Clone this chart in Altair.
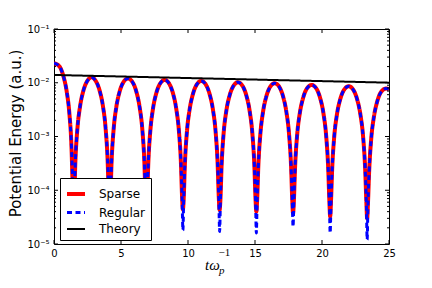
import altair as alt
import pandas as pd

# ---- data ----
# shared (non-dip) points of the oscillating potential energy
curve_t = [
    0.00, 0.40, 0.70, 0.95, 1.15, 1.30, 1.39,
    1.51, 1.60, 1.75, 1.95, 2.20, 2.50, 2.80, 3.10, 3.40, 3.65, 3.85, 4.00, 4.09,
    4.21, 4.30, 4.45, 4.65, 4.90, 5.20, 5.52, 5.84, 6.14, 6.39, 6.59, 6.74, 6.83,
    6.95, 7.04, 7.19, 7.39, 7.64, 7.94, 8.26, 8.57, 8.87, 9.12, 9.32, 9.47, 9.56,
    9.68, 9.77, 9.92, 10.12, 10.37, 10.67, 10.99, 11.31, 11.61, 11.86, 12.06, 12.21, 12.30,
    12.42, 12.51, 12.66, 12.86, 13.11, 13.41, 13.73, 14.05, 14.35, 14.60, 14.80, 14.95, 15.04,
    15.16, 15.25, 15.40, 15.60, 15.85, 16.15, 16.47, 16.79, 17.09, 17.34, 17.54, 17.69, 17.78,
    17.90, 17.99, 18.14, 18.34, 18.59, 18.89, 19.23, 19.56, 19.86, 20.11, 20.31, 20.46, 20.55,
    20.67, 20.76, 20.91, 21.11, 21.36, 21.66, 21.99, 22.32, 22.62, 22.87, 23.07, 23.22, 23.31,
    23.43, 23.52, 23.67, 23.87, 24.12, 24.42, 24.78, 25.00,
]
curve_E = [
    0.0231, 0.0202, 0.01331, 0.00682, 0.002636, 0.000679, 0.00013,
    7.9e-5, 3.69e-4, 1.431e-3, 3.702e-3, 7.226e-3, 1.0968e-2, 1.26e-2, 1.0968e-2, 7.226e-3, 3.702e-3, 1.431e-3, 3.69e-4, 7.9e-5,
    7.7e-5, 3.51e-4, 1.363e-3, 3.526e-3, 6.882e-3, 1.0446e-2, 1.20e-2, 1.0446e-2, 6.882e-3, 3.526e-3, 1.363e-3, 3.51e-4, 7.7e-5,
    7.3e-5, 3.31e-4, 1.284e-3, 3.320e-3, 6.481e-3, 9.837e-3, 1.13e-2, 9.837e-3, 6.481e-3, 3.320e-3, 1.284e-3, 3.31e-4, 7.3e-5,
    7.1e-5, 3.16e-4, 1.227e-3, 3.173e-3, 6.194e-3, 9.401e-3, 1.08e-2, 9.401e-3, 6.194e-3, 3.173e-3, 1.227e-3, 3.16e-4, 7.1e-5,
    6.8e-5, 2.98e-4, 1.159e-3, 2.997e-3, 5.850e-3, 8.879e-3, 1.02e-2, 8.879e-3, 5.850e-3, 2.997e-3, 1.159e-3, 2.98e-4, 6.8e-5,
    6.6e-5, 2.87e-4, 1.113e-3, 2.879e-3, 5.620e-3, 8.531e-3, 9.8e-3, 8.531e-3, 5.620e-3, 2.879e-3, 1.113e-3, 2.87e-4, 6.6e-5,
    6.3e-5, 2.66e-4, 1.034e-3, 2.674e-3, 5.219e-3, 7.922e-3, 9.1e-3, 7.922e-3, 5.219e-3, 2.674e-3, 1.034e-3, 2.66e-4, 6.3e-5,
    6.1e-5, 2.52e-4, 9.77e-4, 2.527e-3, 4.932e-3, 7.486e-3, 8.6e-3, 7.486e-3, 4.932e-3, 2.527e-3, 9.77e-4, 2.52e-4, 6.1e-5,
    5.7e-5, 2.28e-4, 8.86e-4, 2.292e-3, 4.473e-3, 6.790e-3, 7.8e-3, 7.6e-3,
]
# minima of each oscillation
dip_t = [1.45, 4.15, 6.89, 9.62, 12.36, 15.10, 17.84, 20.61, 23.37]
sparse_dip = [5.0e-5, 4.7e-5, 4.5e-5, 4.4e-5, 4.3e-5, 4.0e-5, 3.7e-5, 3.2e-5, 3.0e-5]
regular_dip = [2.0e-5, 1.9e-5, 1.8e-5, 1.8e-5, 1.7e-5, 1.6e-5, 2.1e-5, 1.6e-5, 1.2e-5]
# theory envelope
theory_t = [0.0, 25.0]
theory_E = [0.01396, 0.01004]

series_names = ["Sparse", "Regular", "Theory"]
series_colors = ["#ff0000", "#0000ff", "#000000"]

x_ticks = [0, 5, 10, 15, 20, 25]
y_major = [1e-5, 1e-4, 1e-3, 1e-2, 1e-1]
y_minor = [m * 10.0 ** e for e in range(-5, -1) for m in range(2, 10)]

# ---- tables ----
def series_df(name, dips):
    df = pd.DataFrame({"t": curve_t + dip_t, "E": curve_E + dips})
    df = df.sort_values("t").reset_index(drop=True)
    df["series"] = name
    return df

sparse_df = series_df("Sparse", sparse_dip)
regular_df = series_df("Regular", regular_dip)
theory_df = pd.DataFrame({"t": theory_t, "E": theory_E, "series": "Theory"})

W, H = 335, 215

xscale = alt.Scale(domain=[0, 25], nice=False, zero=False)
yscale = alt.Scale(type="log", domain=[1e-5, 1e-1], nice=False)

xaxis = alt.Axis(values=x_ticks, format="d", ticks=False, domain=False, grid=False,
                 labelFont="DejaVu Sans", labelFontSize=10, labelColor="black",
                 labelPadding=4, labelFlush=False, title=None)
label_expr = ("'10' + (datum.value > 0.05 ? '\u207b\u00b9' : datum.value > 0.005 ? '\u207b\u00b2' : "
              "datum.value > 0.0005 ? '\u207b\u00b3' : datum.value > 0.00005 ? '\u207b\u2074' : '\u207b\u2075')")
yaxis = alt.Axis(values=y_major, labelExpr=label_expr, ticks=False, domain=False, grid=False,
                 labelFont="DejaVu Sans", labelFontSize=10, labelColor="black", labelPadding=5,
                 labelFlush=False,
                 title="Potential Energy (a.u.)", titleFont="DejaVu Sans", titleFontSize=15,
                 titleFontWeight="normal", titleColor="black", titleAngle=270,
                 titleX=-34, titleY=104, titleAlign="center", titleBaseline="alphabetic")

X = alt.X("t:Q", scale=xscale, axis=xaxis)
Y = alt.Y("E:Q", scale=yscale, axis=yaxis)

color_enc = alt.Color("series:N", scale=alt.Scale(domain=series_names, range=series_colors),
                      legend=alt.Legend(title=None))
dash_enc = alt.StrokeDash("series:N", scale=alt.Scale(domain=series_names, range=[[1, 0], [5, 3.5], [1, 0]]),
                          legend=alt.Legend(title=None))
width_enc = alt.StrokeWidth("series:N", scale=alt.Scale(domain=series_names, range=[4, 2, 2]),
                            legend=alt.Legend(title=None))

def line_layer(df):
    return alt.Chart(df).mark_line(clip=True, interpolate="monotone").encode(
        x=X, y=Y, color=color_enc, strokeDash=dash_enc, strokeWidth=width_enc)

sparse_line = line_layer(sparse_df)
regular_line = line_layer(regular_df)
theory_line = alt.Chart(theory_df).mark_line(clip=True).encode(
    x=X, y=Y, color=color_enc, strokeDash=dash_enc, strokeWidth=width_enc)

# inward ticks (matplotlib classic style)
ymaj_df = pd.DataFrame({"E": y_major})
ymin_df = pd.DataFrame({"E": y_minor})
xt_df = pd.DataFrame({"t": x_ticks})

def yticks(df, length):
    left = alt.Chart(df).mark_rule(color="black", strokeWidth=1).encode(
        y=Y, x=alt.value(0), x2=alt.value(length))
    right = alt.Chart(df).mark_rule(color="black", strokeWidth=1).encode(
        y=Y, x=alt.value(W - length), x2=alt.value(W))
    return [left, right]

xt_bottom = alt.Chart(xt_df).mark_rule(color="black", strokeWidth=1).encode(
    x=X, y=alt.value(H - 4), y2=alt.value(H))
xt_top = alt.Chart(xt_df).mark_rule(color="black", strokeWidth=1).encode(
    x=X, y=alt.value(0), y2=alt.value(4))

# x-axis title t omega_p^{-1}
one = pd.DataFrame({"a": [0]})
lbl_main = alt.Chart(one).mark_text(font="Liberation Serif", fontStyle="italic", fontSize=15,
                                    align="left", baseline="alphabetic", color="black").encode(
    x=alt.value(151), y=alt.value(241), text=alt.value("t\u03c9"))
lbl_sup = alt.Chart(one).mark_text(font="Liberation Serif", fontSize=11,
                                   align="left", baseline="alphabetic", color="black").encode(
    x=alt.value(164.5), y=alt.value(227), text=alt.value("\u22121"))
lbl_sub = alt.Chart(one).mark_text(font="Liberation Serif", fontStyle="italic", fontSize=11,
                                   align="left", baseline="alphabetic", color="black").encode(
    x=alt.value(165), y=alt.value(245), text=alt.value("p"))

chart = alt.layer(
    sparse_line, regular_line, theory_line,
    *yticks(ymaj_df, 4), *yticks(ymin_df, 2), xt_bottom, xt_top,
    lbl_main, lbl_sup, lbl_sub,
).properties(
    width=W, height=H,
    autosize=alt.AutoSizeParams(type="none"),
    padding={"left": 46, "top": 21, "right": 35, "bottom": 36},
    background="white",
).configure_view(
    stroke="black", strokeWidth=1,
).configure_legend(
    orient="none", legendX=6, legendY=149,
    fillColor="white", strokeColor="black", strokeWidth=1, cornerRadius=0,
    padding=5, rowPadding=0, symbolType="stroke", symbolSize=324,
    labelFont="DejaVu Sans", labelFontSize=12, labelColor="black", labelOffset=12,
)

chart.save("out.html", embed_options={"renderer": "svg", "actions": False})
